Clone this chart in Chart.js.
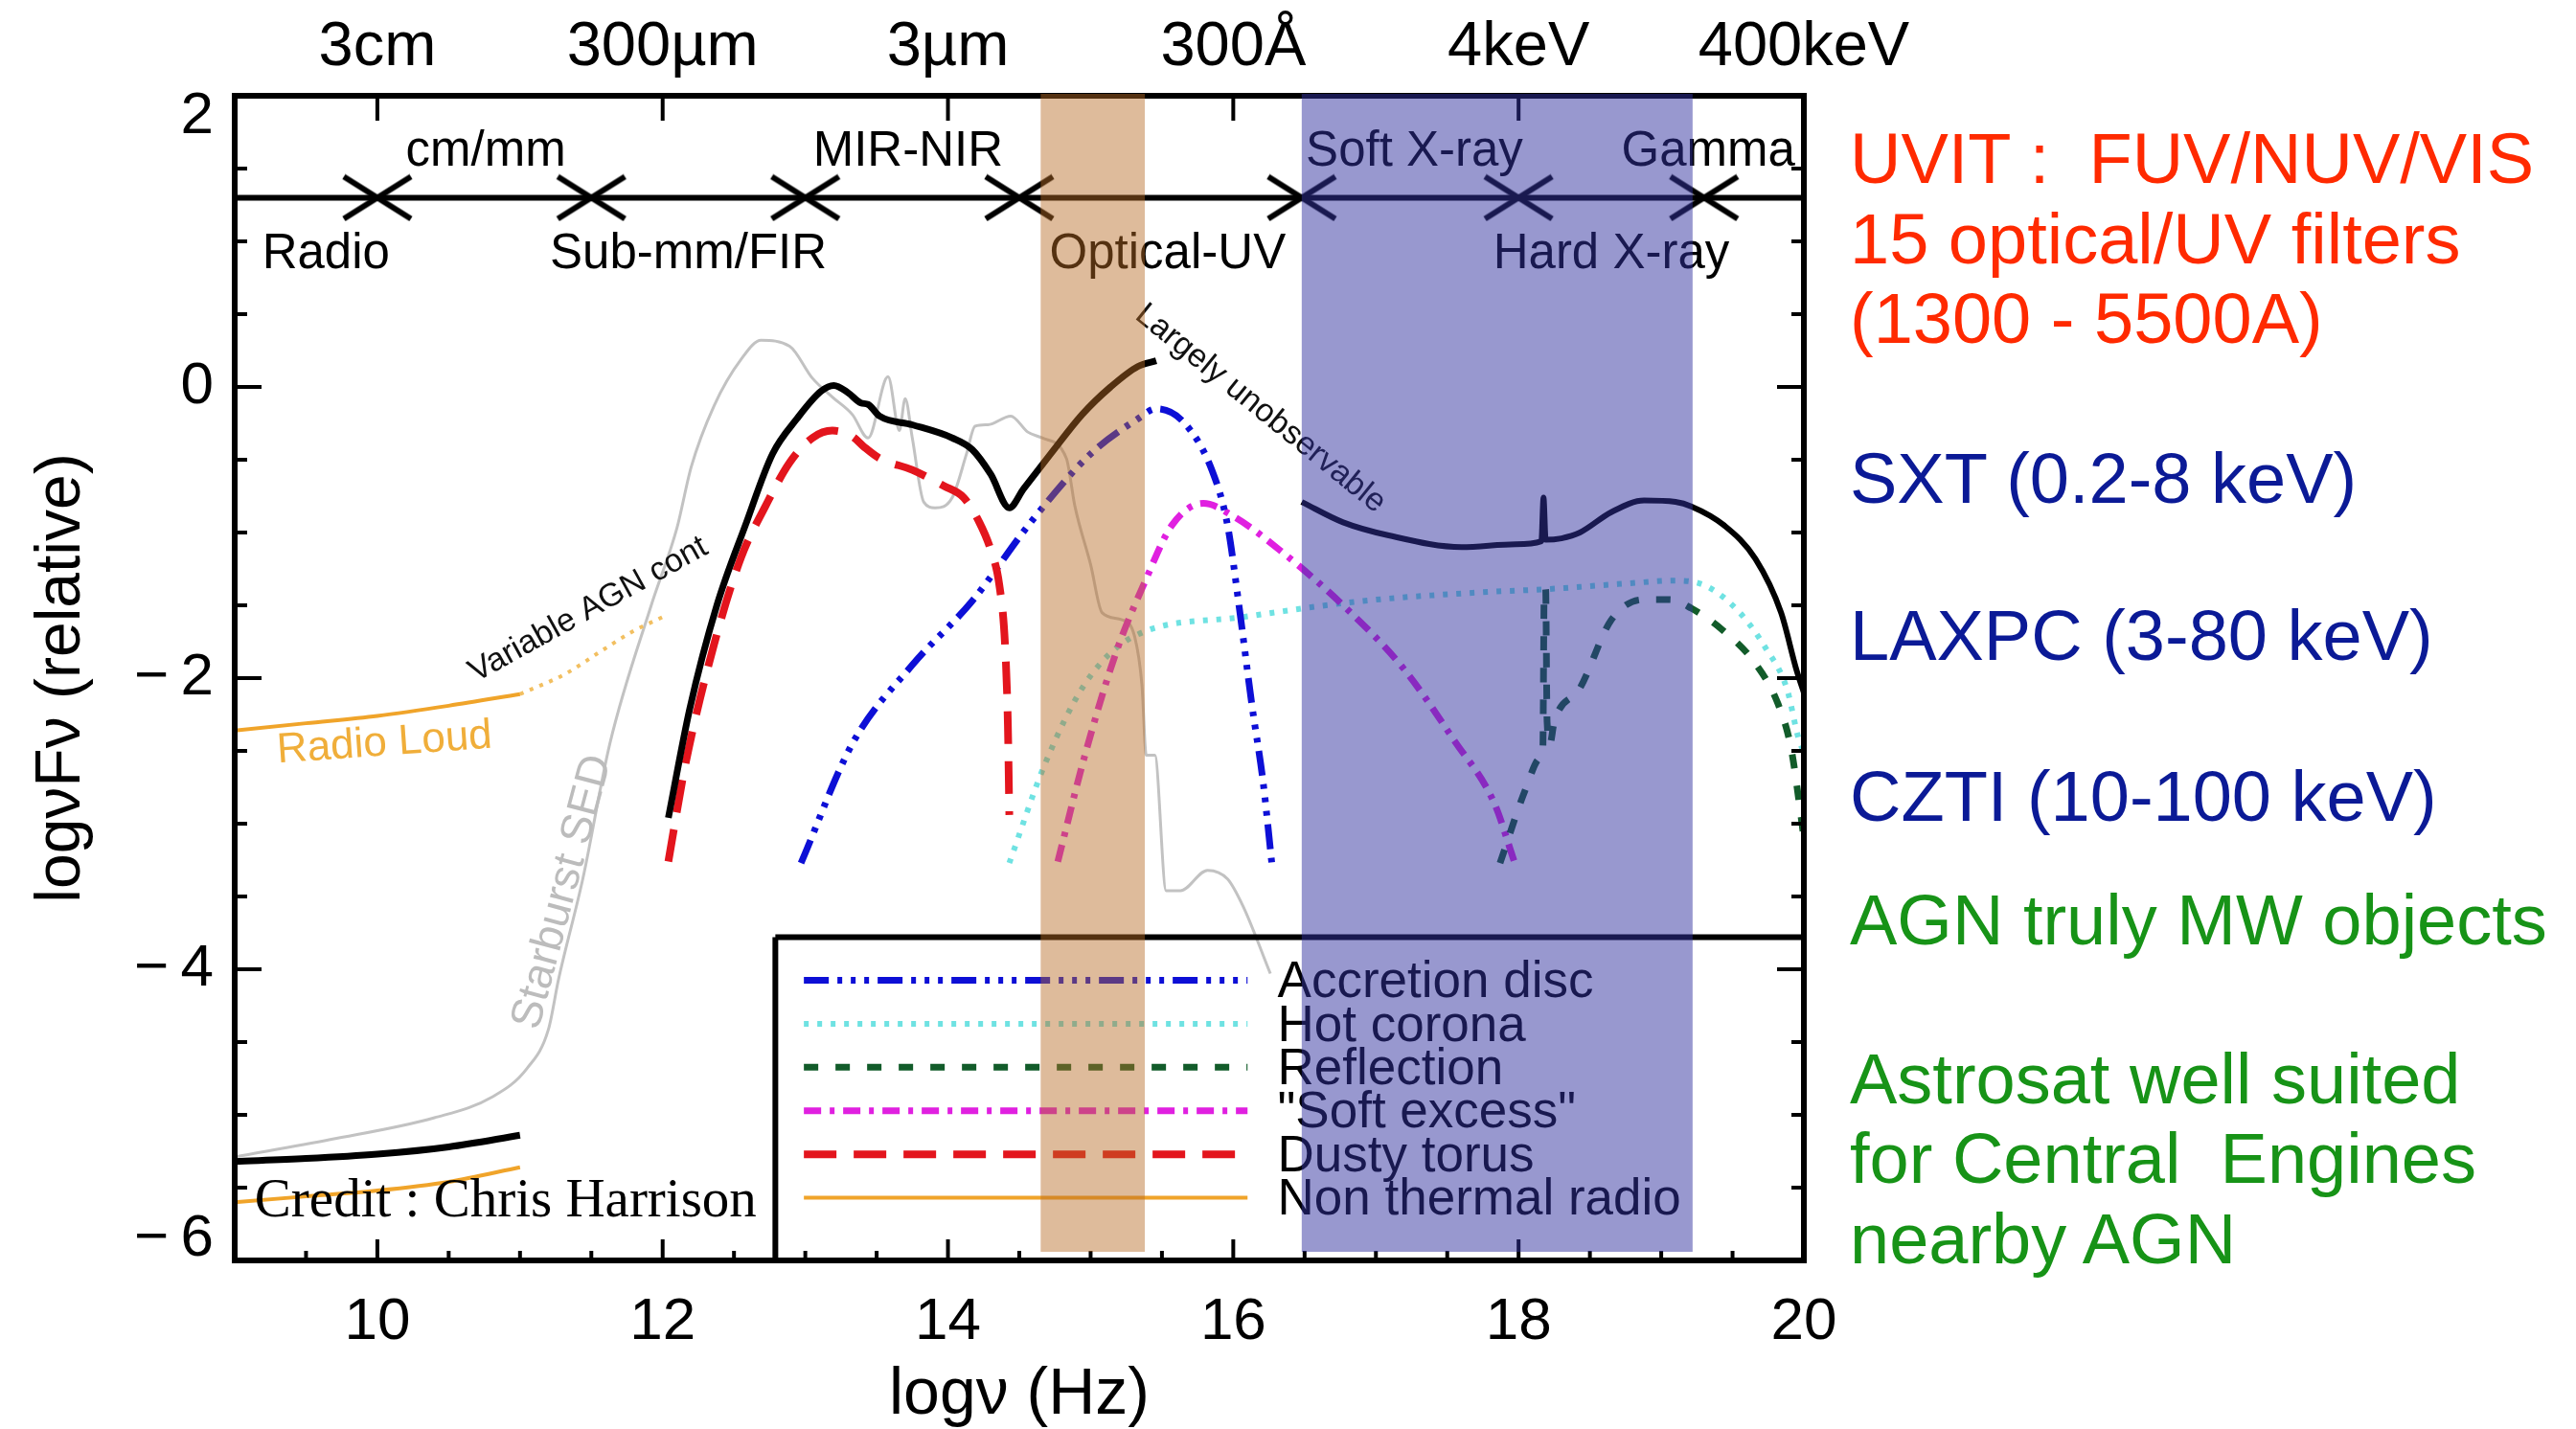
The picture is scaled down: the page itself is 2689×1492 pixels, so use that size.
<!DOCTYPE html>
<html>
<head>
<meta charset="utf-8">
<title>AGN spectral energy distribution</title>
<script src="https://cdn.jsdelivr.net/npm/chart.js@4/dist/chart.umd.min.js"></script>
<style>
  html, body { margin: 0; padding: 0; background: #fff; }
  #wrap { position: relative; width: 2689px; height: 1492px; overflow: hidden; background: #fff; }
  #sed { position: absolute; left: 0; top: 0; }
  .note { position: absolute; left: 1931px; font-family: "Liberation Sans", Arial, sans-serif;
          font-size: 74px; line-height: 84px; white-space: pre; }
  .red { color: #ff2a00; }
  .navy { color: #0b1a96; }
  .green { color: #179317; }
</style>
</head>
<body>
<div id="wrap">
  <canvas id="sed" width="2689" height="1492"></canvas>
  <div class="note red" style="top:124px">UVIT :  FUV/NUV/VIS</div>
  <div class="note red" style="top:208px">15 optical/UV filters</div>
  <div class="note red" style="top:291px">(1300 - 5500A)</div>
  <div class="note navy" style="top:458px">SXT (0.2-8 keV)</div>
  <div class="note navy" style="top:622px">LAXPC (3-80 keV)</div>
  <div class="note navy" style="top:790px">CZTI (10-100 keV)</div>
  <div class="note green" style="top:919px">AGN truly MW objects</div>
  <div class="note green" style="top:1085px">Astrosat well suited</div>
  <div class="note green" style="top:1168px">for Central  Engines</div>
  <div class="note green" style="top:1252px">nearby AGN</div>
</div>
<script>
// ---- axes -------------------------------------------------------------
const nuTicks = [10, 12, 14, 16, 18, 20];
const topTickValues = [10, 12, 14, 16, 18, 20];
const topTickLabels = ['3cm', '300µm', '3µm', '300Å', '4keV', '400keV'];
const fluxTicks = [-6, -4, -2, 0, 2];

// ---- spectral regions -------------------------------------------------
const regionEdges = [10, 11.5, 13, 14.5, 16.48, 18, 19.3];
const regionLineFlux = 1.3;
const regionNamesAbove = ['cm/mm', 'MIR-NIR', 'Soft X-ray', 'Gamma'];
const regionNamesBelow = ['Radio', 'Sub-mm/FIR', 'Optical-UV', 'Hard X-ray'];
const opticalBand = [14.65, 15.38];
const xrayBand = [16.48, 19.22];

// ---- SED components: log nu (Hz) and log nuFnu (relative) -------------
const starburstNu = [9.0, 9.67, 10.4, 10.8, 11.05, 11.2, 11.27, 11.44, 11.63, 11.92, 12.1, 12.2, 12.36, 12.55, 12.69, 12.89, 13.05, 13.19, 13.33, 13.44, 13.58, 13.66, 13.70, 13.75, 13.83, 13.91, 14.03, 14.13, 14.19, 14.28, 14.44, 14.56, 14.66, 14.83, 14.89, 15.0, 15.08, 15.22, 15.31, 15.36, 15.39, 15.45, 15.53, 15.63, 15.82, 15.96, 16.07, 16.26];
const starburstFlux = [-5.29, -5.17, -5.02, -4.88, -4.68, -4.41, -4.07, -3.38, -2.45, -1.5, -0.97, -0.55, -0.13, 0.19, 0.32, 0.28, 0.06, -0.07, -0.19, -0.35, 0.07, -0.3, -0.08, -0.35, -0.79, -0.83, -0.76, -0.46, -0.27, -0.26, -0.2, -0.31, -0.35, -0.49, -0.82, -1.22, -1.55, -1.6, -1.72, -2.05, -2.53, -2.53, -3.46, -3.46, -3.32, -3.38, -3.57, -4.03];

const totalRadioNu = [9, 9.5, 10, 10.5, 11];
const totalRadioFlux = [-5.32, -5.3, -5.27, -5.22, -5.14];

const nonThermalNu = [9, 9.5, 10, 10.5, 11];
const nonThermalFlux = [-5.6, -5.56, -5.52, -5.46, -5.36];

const radioLoudNu = [9, 9.5, 10, 10.5, 11];
const radioLoudFlux = [-2.36, -2.31, -2.26, -2.19, -2.11];

const variableAgnNu = [11, 11.32, 11.56, 11.79, 12.0];
const variableAgnFlux = [-2.11, -1.97, -1.82, -1.68, -1.58];

const totalIrUvNu = [12.04, 12.19, 12.38, 12.58, 12.77, 12.94, 13.11, 13.2, 13.3, 13.39, 13.44, 13.52, 13.75, 14.03, 14.17, 14.30, 14.43, 14.53, 14.72, 14.94, 15.14, 15.33, 15.46];
const totalIrUvFlux = [-2.96, -2.21, -1.5, -0.95, -0.46, -0.22, -0.03, 0.01, -0.04, -0.11, -0.12, -0.2, -0.26, -0.35, -0.43, -0.6, -0.83, -0.7, -0.46, -0.19, 0.0, 0.14, 0.18];

const totalXrayNu = [16.48, 16.77, 17.09, 17.6, 17.98, 18.16, 18.175, 18.19, 18.3, 18.43, 18.65, 18.88, 19.1, 19.21, 19.44, 19.66, 19.84, 19.95, 20.0];
const totalXrayFlux = [-0.79, -0.93, -1.02, -1.1, -1.08, -1.06, -0.76, -1.05, -1.04, -1.0, -0.86, -0.78, -0.79, -0.82, -0.95, -1.18, -1.55, -1.95, -2.1];

const dustyTorusNu = [12.04, 12.16, 12.36, 12.55, 12.72, 12.89, 13.05, 13.19, 13.33, 13.41, 13.52, 13.75, 13.97, 14.11, 14.22, 14.30, 14.36, 14.40, 14.42, 14.43];
const dustyTorusFlux = [-3.26, -2.59, -1.77, -1.17, -0.82, -0.52, -0.35, -0.3, -0.34, -0.41, -0.49, -0.57, -0.68, -0.76, -0.93, -1.12, -1.36, -1.77, -2.32, -2.94];

const accretionNu = [12.97, 13.33, 13.75, 14.17, 14.58, 15.0, 15.33, 15.46, 15.65, 15.85, 15.96, 16.04, 16.13, 16.21, 16.27];
const accretionFlux = [-3.27, -2.45, -1.91, -1.47, -0.93, -0.46, -0.22, -0.15, -0.24, -0.57, -0.95, -1.5, -2.18, -2.72, -3.27];

const softExcessNu = [14.77, 14.96, 15.18, 15.38, 15.57, 15.79, 16.02, 16.35, 16.77, 17.19, 17.55, 17.83, 17.97];
const softExcessFlux = [-3.26, -2.53, -1.82, -1.34, -0.95, -0.8, -0.9, -1.14, -1.5, -1.93, -2.43, -2.86, -3.26];

const hotCoronaNu = [14.43, 14.68, 14.96, 15.29, 16.07, 16.91, 17.75, 18.18, 18.76, 19.1, 19.32, 19.55, 19.73, 19.88, 19.97, 20.0];
const hotCoronaFlux = [-3.27, -2.59, -2.04, -1.72, -1.58, -1.47, -1.41, -1.39, -1.35, -1.33, -1.37, -1.55, -1.79, -2.07, -2.44, -2.5];

const reflectionNu = [17.87, 18.05, 18.15, 18.17, 18.18, 18.19, 18.2, 18.22, 18.25, 18.43, 18.65, 18.88, 19.06, 19.21, 19.43, 19.66, 19.82, 19.91, 19.98, 20.0];
const reflectionFlux = [-3.27, -2.76, -2.55, -2.5, -1.39, -1.39, -2.3, -2.45, -2.3, -2.07, -1.6, -1.46, -1.46, -1.52, -1.67, -1.9, -2.18, -2.48, -2.95, -3.1];

// ---- helpers ------------------------------------------------------------
const FONT = '"Liberation Sans", Arial, Helvetica, sans-serif';
Chart.defaults.font.family = FONT;
Chart.defaults.color = '#000';

const toPoints = (xs, ys) => xs.map((x, i) => ({ x, y: ys[i] }));
const minusSign = v => (v < 0 ? '\u2212\u2009' + Math.abs(v) : String(v));

// wide, flat "X" used to mark the boundaries between spectral regions
const xMark = (() => {
  const c = document.createElement('canvas');
  c.width = 78; c.height = 50;
  const g = c.getContext('2d');
  g.strokeStyle = '#000'; g.lineWidth = 6; g.lineCap = 'butt';
  g.beginPath();
  g.moveTo(4, 3); g.lineTo(74, 47);
  g.moveTo(4, 47); g.lineTo(74, 3);
  g.stroke();
  return c;
})();

const curve = (label, xs, ys, style) => Object.assign({
  label, data: toPoints(xs, ys), showLine: true, pointRadius: 0, fill: false,
  borderCapStyle: 'butt', borderJoinStyle: 'round', cubicInterpolationMode: 'monotone'
}, style);

const datasets = [
  curve('Region boundaries', regionEdges, regionEdges.map(() => regionLineFlux),
        { showLine: false, pointStyle: xMark, pointRadius: 12, borderColor: '#000', order: 0 }),
  curve('Regions', [9, 20], [regionLineFlux, regionLineFlux],
        { borderColor: '#000', borderWidth: 6, cubicInterpolationMode: 'default', tension: 0, order: 1 }),
  curve('Total (IR-UV)', totalIrUvNu, totalIrUvFlux, { borderColor: '#000', borderWidth: 7, order: 2 }),
  curve('Total (X-ray)', totalXrayNu, totalXrayFlux, { borderColor: '#000', borderWidth: 6, order: 2 }),
  curve('Total (radio quiet)', totalRadioNu, totalRadioFlux, { borderColor: '#000', borderWidth: 7, order: 2 }),
  curve('Accretion disc', accretionNu, accretionFlux,
        { borderColor: '#0d0fd6', borderWidth: 7, borderDash: [26, 9, 5, 9, 5, 9, 5, 9], order: 4 }),
  curve('Hot corona', hotCoronaNu, hotCoronaFlux,
        { borderColor: '#6fe2e2', borderWidth: 6, borderDash: [5, 9], order: 6 }),
  curve('Reflection', reflectionNu, reflectionFlux,
        { borderColor: '#125c2a', borderWidth: 7, borderDash: [15, 18], order: 5 }),
  curve('"Soft excess"', softExcessNu, softExcessFlux,
        { borderColor: '#e020e0', borderWidth: 7, borderDash: [18, 9, 5, 9], order: 5 }),
  curve('Dusty torus', dustyTorusNu, dustyTorusFlux,
        { borderColor: '#e3151d', borderWidth: 8, borderDash: [34, 18], order: 3 }),
  curve('Non thermal radio', nonThermalNu, nonThermalFlux,
        { borderColor: '#f0a42a', borderWidth: 4, order: 7 }),
  curve('Radio loud', radioLoudNu, radioLoudFlux, { borderColor: '#f0a42a', borderWidth: 4, order: 7 }),
  curve('Variable AGN continuum', variableAgnNu, variableAgnFlux,
        { borderColor: '#f2bf60', borderWidth: 4, borderDash: [4, 7], order: 7 }),
  curve('Starburst SED', starburstNu, starburstFlux, { borderColor: '#c2c2c2', borderWidth: 3, order: 9 })
];

const legendEntries = ['Accretion disc', 'Hot corona', 'Reflection', '"Soft excess"', 'Dusty torus', 'Non thermal radio'];

// ---- decorations: boxed axes with inward ticks, legend, labels, bands ---
const sedDecor = {
  id: 'sedDecor',
  afterDatasetsDraw(chart, args, opts) {
    const { ctx, chartArea: a, scales: { x, y } } = chart;
    const seg = (x1, y1, x2, y2) => { ctx.beginPath(); ctx.moveTo(x1, y1); ctx.lineTo(x2, y2); ctx.stroke(); };
    ctx.save();
    ctx.strokeStyle = '#000';

    // frame
    ctx.lineWidth = 6;
    ctx.strokeRect(a.left, a.top, a.right - a.left, a.bottom - a.top);

    // inward ticks
    ctx.lineWidth = 4;
    for (let k = 19; k <= 39; k++) {
      const px = x.getPixelForValue(k / 2);
      seg(px, a.bottom, px, a.bottom - (k % 4 === 0 ? 22 : 10));
    }
    topTickValues.filter(v => v < x.max).forEach(v => {
      const px = x.getPixelForValue(v);
      seg(px, a.top, px, a.top + 26);
    });
    for (let k = -11; k <= 3; k++) {
      const py = y.getPixelForValue(k / 2);
      const len = k % 4 === 0 ? 28 : 13;
      seg(a.left, py, a.left + len, py);
      seg(a.right, py, a.right - len, py);
    }

    // legend box
    const lb = opts.legendBox;
    const bx = x.getPixelForValue(lb.x), by = y.getPixelForValue(lb.y);
    ctx.lineWidth = 6;
    seg(bx, by, a.right, by);
    seg(bx, by, bx, a.bottom);
    const sx1 = x.getPixelForValue(lb.sampleFrom), sx2 = x.getPixelForValue(lb.sampleTo);
    const tx = x.getPixelForValue(lb.textAt);
    ctx.font = '53px ' + FONT;
    ctx.textBaseline = 'middle';
    ctx.textAlign = 'left';
    legendEntries.forEach((name, i) => {
      const ds = chart.data.datasets.find(d => d.label === name);
      const ry = by + lb.firstRow + i * lb.rowStep;
      ctx.save();
      ctx.strokeStyle = ds.borderColor;
      ctx.lineWidth = ds.borderWidth;
      ctx.setLineDash(ds.borderDash || []);
      seg(sx1, ry, sx2, ry);
      ctx.restore();
      ctx.fillStyle = '#000';
      ctx.fillText(name, tx, ry + 3);
    });

    // spectral region names
    ctx.font = '51px ' + FONT;
    ctx.textAlign = 'center';
    ctx.fillStyle = '#000';
    regionNamesAbove.forEach((t, i) =>
      ctx.fillText(t, x.getPixelForValue(opts.aboveAt[i]), y.getPixelForValue(opts.aboveFlux)));
    regionNamesBelow.forEach((t, i) =>
      ctx.fillText(t, x.getPixelForValue(opts.belowAt[i]), y.getPixelForValue(opts.belowFlux)));

    // curve annotations
    opts.notes.forEach(n => {
      ctx.save();
      ctx.translate(x.getPixelForValue(n.x), y.getPixelForValue(n.y));
      ctx.rotate(n.rot * Math.PI / 180);
      ctx.font = n.font;
      ctx.fillStyle = n.color;
      ctx.textAlign = n.align || 'center';
      ctx.textBaseline = 'middle';
      ctx.fillText(n.text, 0, 0);
      ctx.restore();
    });
    ctx.restore();
  },
  afterDraw(chart, args, opts) {
    // translucent observing bands laid over everything inside the frame
    const { ctx, chartArea: a, scales: { x } } = chart;
    ctx.save();
    opts.bands.forEach(b => {
      const x1 = x.getPixelForValue(b.range[0]), x2 = x.getPixelForValue(b.range[1]);
      ctx.fillStyle = b.color;
      ctx.fillRect(x1, a.top - 2, x2 - x1, a.bottom - a.top - 7);
    });
    ctx.restore();
  }
};

new Chart(document.getElementById('sed'), {
  type: 'scatter',
  data: { datasets },
  options: {
    responsive: false,
    animation: false,
    events: [],
    layout: { padding: { left: 0, right: 806, top: 0, bottom: 0 } },
    plugins: {
      legend: { display: false },
      tooltip: { enabled: false },
      sedDecor: {
        legendBox: { x: 12.79, y: -3.78, sampleFrom: 12.99, sampleTo: 16.1, textAt: 16.31, firstRow: 45, rowStep: 45.4 },
        aboveAt: [10.76, 13.72, 17.27, 19.33], aboveFlux: 1.61,
        belowAt: [9.64, 12.18, 15.54, 18.65], belowFlux: 0.91,
        notes: [
          { text: 'Variable AGN cont', x: 11.48, y: -1.53, rot: -29, font: '34px ' + FONT, color: '#111' },
          { text: 'Radio Loud', x: 10.05, y: -2.45, rot: -4, font: '44px ' + FONT, color: '#f0ae3a' },
          { text: 'Starburst SED', x: 11.30, y: -3.47, rot: -75, font: '46px ' + FONT, color: '#bcbcbc' },
          { text: 'Largely unobservable', x: 16.19, y: -0.15, rot: 39, font: '34px ' + FONT, color: '#111' },
          { text: 'Credit : Chris Harrison', x: 9.14, y: -5.6, rot: 0, align: 'left',
            font: '57px "Liberation Serif", "Times New Roman", serif', color: '#000' }
        ],
        bands: [
          { range: opticalBand, color: 'rgba(182,106,38,0.46)' },
          { range: xrayBand, color: 'rgba(50,50,160,0.5)' }
        ]
      }
    },
    scales: {
      x: {
        type: 'linear', position: 'bottom', min: 9, max: 20,
        grid: { display: false, drawTicks: false }, border: { display: false },
        afterBuildTicks: s => { s.ticks = nuTicks.map(v => ({ value: v })); },
        afterFit: s => { s.height = 176; },
        ticks: { font: { size: 62 }, padding: 28, autoSkip: false, maxRotation: 0, color: '#000' },
        title: { display: true, text: 'logν (Hz)', color: '#000',
                 font: { size: 68, lineHeight: 1 }, padding: { top: 0, bottom: 1 } }
      },
      x2: {
        type: 'linear', position: 'top', min: 9, max: 20,
        grid: { display: false, drawTicks: false }, border: { display: false },
        afterBuildTicks: s => { s.ticks = topTickValues.map(v => ({ value: v })); },
        afterFit: s => { s.height = 100; },
        ticks: { font: { size: 65 }, padding: 11, autoSkip: false, maxRotation: 0, color: '#000',
                 callback: (v, i) => topTickLabels[i] }
      },
      y: {
        type: 'linear', position: 'left', min: -6, max: 2,
        grid: { display: false, drawTicks: false }, border: { display: false },
        afterBuildTicks: s => { s.ticks = fluxTicks.map(v => ({ value: v })); },
        afterFit: s => { s.width = 245; },
        ticks: {
          font: { size: 62, lineHeight: 0.72 }, padding: 22, autoSkip: false, color: '#000',
          // end labels sit inside the frame, as in the classic boxed style
          callback: (v, i, t) => i === t.length - 1 ? ['', minusSign(v)] : (i === 0 ? [minusSign(v), ''] : minusSign(v))
        },
        title: { display: true, text: 'logνFν (relative)', color: '#000',
                 font: { size: 66, lineHeight: 1 }, padding: { top: 32, bottom: 0 } }
      }
    }
  },
  plugins: [sedDecor]
});
</script>
</body>
</html>
